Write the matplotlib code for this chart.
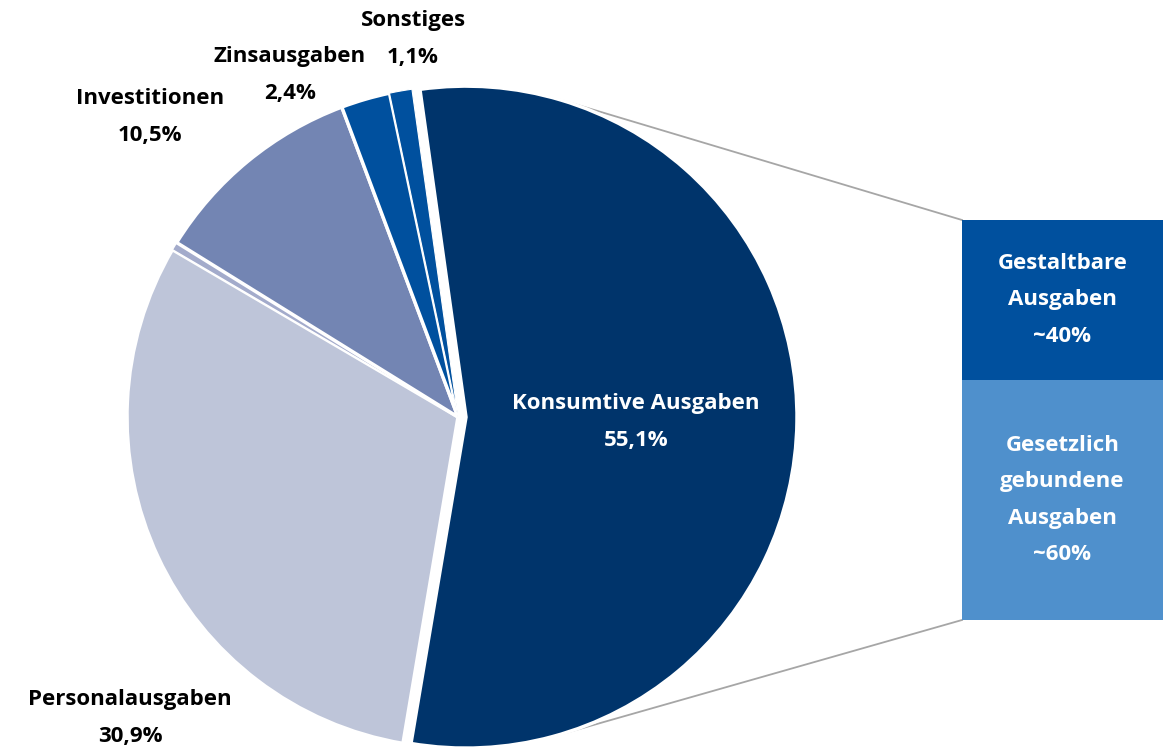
import matplotlib.pyplot as plt
import numpy as np

plt.rcParams["font.family"] = ["Open Sans", "DejaVu Sans"]

# Ausgabenstruktur (Anteile in %)
labels = ["Konsumtive Ausgaben", "Personalausgaben", "", "Investitionen", "Zinsausgaben", "Sonstiges"]
shares = [55.1, 30.9, 0.4, 10.5, 2.4, 1.1]
colors = ["#00346B", "#BEC5D9", "#A3ABCB", "#7385B3", "#00509E", "#00509E"]

# Aufteilung der konsumtiven Ausgaben
split_labels = ["Gesetzlich\ngebundene\nAusgaben\n~60%", "Gestaltbare\nAusgaben\n~40%"]
split_shares = [60, 40]
split_colors = ["#4F90CC", "#00509E"]

W, H = 1169, 749
fig = plt.figure(figsize=(W / 100, H / 100), dpi=100)
ax = fig.add_axes([0, 0, 1, 1])

cx, cy, r = 458, H - 417, 331
explode = [8, 0, 0, 0, 0, 0]
wedges, _ = ax.pie(
    shares,
    colors=colors,
    startangle=98,
    counterclock=False,
    center=(cx, cy),
    radius=r,
    explode=explode,
    wedgeprops=dict(edgecolor="white", linewidth=2.5),
    frame=True,
)
ax.set_xlim(0, W)
ax.set_ylim(0, H)
ax.set_aspect("equal")
ax.axis("off")
for w in wedges:
    w.set_zorder(3)
wedges[2].set_linewidth(1.0)
wedges[5].set_linewidth(0.8)

# gestapelter Balken rechts
bx, bw, bbottom, scale = 962, 201, H - 620, 4.0
bottom = bbottom
for val, lab, col in zip(split_shares, split_labels, split_colors):
    ax.bar(bx + bw / 2, val * scale, width=bw, bottom=bottom, color=col, zorder=2)
    ax.text(bx + bw / 2, bottom + val * scale / 2, lab, ha="center", va="center",
            color="white", fontsize=16, fontweight="bold", linespacing=1.95, zorder=4)
    bottom += val * scale

# Tangenten von den Balkenecken an die Konsumtive-Scheibe
kcx, kcy = wedges[0].center


def tangent_point(px, py, sign):
    dx, dy = px - kcx, py - kcy
    d = np.hypot(dx, dy)
    a = np.arctan2(dy, dx) + sign * np.arccos(r / d)
    return kcx + r * np.cos(a), kcy + r * np.sin(a)


top_corner = (bx, bbottom + 100 * scale)
bot_corner = (bx, bbottom)
tx, ty = tangent_point(*top_corner, 1)
ux, uy = tangent_point(*bot_corner, -1)
ax.plot([tx, top_corner[0]], [ty, top_corner[1]], color="#A6A6A6", lw=1.3, zorder=1)
ax.plot([ux, bot_corner[0]], [uy, bot_corner[1]], color="#A6A6A6", lw=1.3, zorder=1)


def pct(v):
    return f"{v:.1f}%".replace(".", ",")


# Beschriftungen
ax.text(636, H - 422, f"{labels[0]}\n{pct(shares[0])}", ha="center", va="center",
        color="white", fontsize=16, fontweight="bold", linespacing=1.95, zorder=5)
outside = [(1, 130, 718), (3, 150, 117), (4, 290, 75), (5, 413, 39)]
for i, x, y in outside:
    ax.text(x, H - y, f"{labels[i]}\n{pct(shares[i])}", ha="center", va="center",
            color="black", fontsize=16, fontweight="bold", linespacing=1.95, zorder=5)

fig.savefig("out.png", dpi=100)
